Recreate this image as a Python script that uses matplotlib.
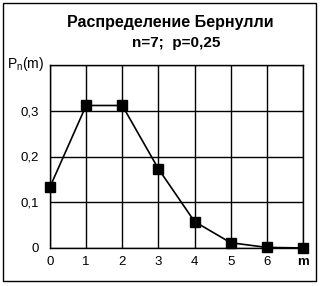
import matplotlib.pyplot as plt
from matplotlib.patches import Rectangle

# values (n=7, p=0.25)
m_vals = [0, 1, 2, 3, 4, 5, 6, 7]
p_vals = [0.1335, 0.3115, 0.3115, 0.1730, 0.0577, 0.0115, 0.0013, 0.0001]
x_labels = ['0', '1', '2', '3', '4', '5', '6', 'm']
y_ticks = [0, 0.1, 0.2, 0.3, 0.4]
y_labels = ['0', '0,1', '0,2', '0,3', '']

plt.rcParams['font.family'] = ['Liberation Sans', 'DejaVu Sans']

W, H = 321, 286
fig = plt.figure(figsize=(W / 100, H / 100), dpi=100)

# outer frame
fig.patches.append(Rectangle((3 / W, 1 - 281 / H), 313 / W, 278 / H,
                             transform=fig.transFigure, fill=False,
                             edgecolor='black', linewidth=1))

ax = fig.add_axes([50 / W, 1 - 248 / H, 253 / W, 183 / H])
ax.plot(m_vals, p_vals, color='black', linewidth=1.2, marker='s',
        markersize=6.5, markerfacecolor='black', clip_on=False, zorder=3)

ax.set_xlim(0, 7)
ax.set_ylim(0, 0.4)
ax.set_xticks(m_vals)
ax.set_xticklabels(x_labels)
ax.set_yticks(y_ticks)
ax.set_yticklabels(y_labels)
ax.grid(True, color='black', linewidth=1)
ax.tick_params(length=0, labelsize=9.5)
ax.tick_params(axis='x', pad=6)
ax.tick_params(axis='y', pad=8)
for lab in ax.get_xticklabels()[-1:]:
    lab.set_fontweight('bold')
for s in ax.spines.values():
    s.set_linewidth(1)

fig.text(170 / W, 1 - 22 / H, 'Распределение Бернулли', ha='center',
         va='center', fontsize=11.5, fontweight='bold')
fig.text(176 / W, 1 - 43 / H, 'n=7;  p=0,25', ha='center', va='center',
         fontsize=11, fontweight='bold')
fig.text(7 / W, 1 - 64 / H, r'P$_\mathregular{n}$(m)', ha='left',
         va='center', fontsize=10)

fig.savefig('out.png', dpi=100)
